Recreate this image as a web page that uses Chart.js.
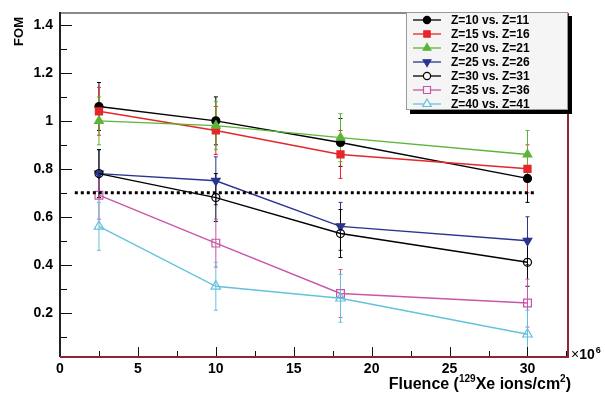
<!DOCTYPE html>
<html>
<head>
<meta charset="utf-8">
<script src="https://cdn.jsdelivr.net/npm/chart.js@4.4.0/dist/chart.umd.min.js"></script>
<style>
  body { margin: 0; background: #fff; }
  #wrap { width: 605px; height: 397px; }
</style>
</head>
<body>
<div id="wrap"><canvas id="fomChart" width="605" height="397"></canvas></div>
<script>
// fluence in units of 1e6 ions/cm2
const fluence = [2.5, 10, 18, 30];

const seriesLabels = ['Z=10 vs. Z=11', 'Z=15 vs. Z=16', 'Z=20 vs. Z=21', 'Z=25 vs. Z=26',
                      'Z=30 vs. Z=31', 'Z=35 vs. Z=36', 'Z=40 vs. Z=41'];

const fomZ10 = [1.06, 1.00, 0.91, 0.76];
const fomZ15 = [1.04, 0.96, 0.86, 0.80];
const fomZ20 = [1.00, 0.98, 0.93, 0.86];
const fomZ25 = [0.78, 0.75, 0.56, 0.50];
const fomZ30 = [0.78, 0.68, 0.53, 0.41];
const fomZ35 = [0.69, 0.49, 0.28, 0.24];
const fomZ40 = [0.56, 0.31, 0.26, 0.11];

const errZ10 = [0.10, 0.10, 0.10, 0.10];
const errZ15 = [0.10, 0.10, 0.10, 0.10];
const errZ20 = [0.10, 0.10, 0.10, 0.10];
const errZ25 = [0.10, 0.10, 0.10, 0.10];
const errZ30 = [0.10, 0.10, 0.10, 0.10];
const errZ35 = [0.10, 0.10, 0.10, 0.10];
const errZ40 = [0.10, 0.10, 0.10, 0.10];

const threshold = 0.7;
const thresholdRange = [0.95, 30.6];

const xTicks = [0, 5, 10, 15, 20, 25, 30];
const xMinorTicks = [2.5, 7.5, 12.5, 17.5, 22.5, 27.5, 32.5];
const yTicks = [0.2, 0.4, 0.6, 0.8, 1, 1.2, 1.4];
const yMinorTicks = [0.1, 0.3, 0.5, 0.7, 0.9, 1.1, 1.3];

const values = [fomZ10, fomZ15, fomZ20, fomZ25, fomZ30, fomZ35, fomZ40];
const errors = [errZ10, errZ15, errZ20, errZ25, errZ30, errZ35, errZ40];

// marker styles, ROOT-like
const styles = [
  { color: '#000000', shape: 'circle',   open: false, r: 4,   rot: 0 },
  { color: '#e5262b', shape: 'rect',     open: false, r: 5,   rot: 0 },
  { color: '#5cb536', shape: 'triangle', open: false, r: 5,   rot: 0 },
  { color: '#2a3490', shape: 'triangle', open: false, r: 5,   rot: 180 },
  { color: '#000000', shape: 'circle',   open: true,  r: 4,   rot: 0 },
  { color: '#c856a6', shape: 'rect',     open: true,  r: 5.5, rot: 0 },
  { color: '#64c2dc', shape: 'triangle', open: true,  r: 5.5, rot: 0 }
];

const font = { family: '"Liberation Sans", Arial, sans-serif', size: 14, weight: 'bold' };

const datasets = values.map((vals, i) => ({
  label: seriesLabels[i],
  data: fluence.map((f, j) => ({ x: f, y: vals[j] })),
  borderColor: styles[i].color,
  borderWidth: 1.4,
  pointStyle: styles[i].shape,
  pointRotation: styles[i].rot,
  pointRadius: styles[i].r,
  pointBorderWidth: 1.2,
  pointBorderColor: styles[i].color,
  pointBackgroundColor: styles[i].open ? 'rgba(255,255,255,0)' : styles[i].color,
  order: values.length - i,
  tension: 0
}));

datasets.push({
  label: 'threshold',
  data: thresholdRange.map(x => ({ x, y: threshold })),
  borderColor: '#000',
  borderWidth: 3,
  borderDash: [3, 3],
  pointRadius: 0,
  order: 0
});

const errorBars = {
  id: 'errorBars',
  beforeDatasetsDraw(chart) {
    const { ctx, chartArea: a, scales: { x, y } } = chart;
    ctx.save();
    ctx.beginPath();
    ctx.rect(a.left, a.top, a.right - a.left, a.bottom - a.top);
    ctx.clip();
    values.forEach((vals, i) => {
      ctx.strokeStyle = styles[i].color;
      ctx.lineWidth = 1;
      fluence.forEach((f, j) => {
        const px = x.getPixelForValue(f);
        const lo = y.getPixelForValue(vals[j] - errors[i][j]);
        const hi = y.getPixelForValue(vals[j] + errors[i][j]);
        ctx.beginPath();
        ctx.moveTo(px, lo); ctx.lineTo(px, hi);
        ctx.moveTo(px - 2, lo); ctx.lineTo(px + 2, lo);
        ctx.moveTo(px - 2, hi); ctx.lineTo(px + 2, hi);
        ctx.stroke();
      });
    });
    ctx.restore();
  }
};

// frame, inward ticks, axis titles and the boxed legend
const decorations = {
  id: 'decorations',
  afterDatasetsDraw(chart) {
    const { ctx, chartArea: a, scales: { x, y } } = chart;
    ctx.save();
    ctx.lineCap = 'butt';

    ctx.strokeStyle = '#111';
    ctx.lineWidth = 1;
    ctx.beginPath();
    yTicks.forEach(v => { const py = Math.round(y.getPixelForValue(v)) + 0.5; ctx.moveTo(a.left, py); ctx.lineTo(a.left + 12, py); });
    yMinorTicks.forEach(v => { const py = Math.round(y.getPixelForValue(v)) + 0.5; ctx.moveTo(a.left, py); ctx.lineTo(a.left + 7, py); });
    xTicks.forEach(v => { const px = Math.round(x.getPixelForValue(v)) + 0.5; ctx.moveTo(px, a.bottom); ctx.lineTo(px, a.bottom - 10); });
    xMinorTicks.forEach(v => { const px = Math.round(x.getPixelForValue(v)) + 0.5; ctx.moveTo(px, a.bottom); ctx.lineTo(px, a.bottom - 6); });
    ctx.stroke();

    ctx.lineWidth = 2;
    ctx.strokeStyle = '#8a8a8a';
    ctx.beginPath(); ctx.moveTo(a.left, a.top); ctx.lineTo(a.right, a.top); ctx.stroke();
    ctx.strokeStyle = '#222';
    ctx.beginPath(); ctx.moveTo(a.left, a.top - 1); ctx.lineTo(a.left, a.bottom); ctx.stroke();
    ctx.strokeStyle = '#8c2636';
    ctx.beginPath(); ctx.moveTo(a.left, a.bottom); ctx.lineTo(a.right, a.bottom); ctx.lineTo(a.right, a.top); ctx.stroke();

    ctx.fillStyle = '#000';
    ctx.save();
    ctx.translate(19, 17);
    ctx.rotate(-Math.PI / 2);
    ctx.font = 'bold 13px "Liberation Sans", Arial, sans-serif';
    ctx.textAlign = 'right';
    ctx.textBaseline = 'middle';
    ctx.fillText('FOM', 0, 0);
    ctx.restore();

    // Fluence (^129Xe ions/cm^2), right aligned to the frame
    const big = 'bold 16px "Liberation Sans", Arial, sans-serif';
    const small = 'bold 10px "Liberation Sans", Arial, sans-serif';
    const parts = [['Fluence (', big, 0], ['129', small, -7], ['Xe ions/cm', big, 0], ['2', small, -7], [')', big, 0]];
    ctx.textBaseline = 'alphabetic';
    ctx.textAlign = 'left';
    let w = 0;
    parts.forEach(p => { ctx.font = p[1]; w += ctx.measureText(p[0]).width; });
    let tx = a.right + 3 - w;
    parts.forEach(p => { ctx.font = p[1]; ctx.fillText(p[0], tx, 389 + p[2]); tx += ctx.measureText(p[0]).width; });

    // exponent of the x axis
    ctx.font = '14px "Liberation Sans", Arial, sans-serif';
    ctx.fillText('\u00d7', a.right + 3, 359);
    let ex = a.right + 3 + ctx.measureText('\u00d7').width;
    ctx.font = 'bold 14px "Liberation Sans", Arial, sans-serif';
    ctx.fillText('10', ex, 359);
    ex += ctx.measureText('10').width + 1;
    ctx.font = 'bold 9px "Liberation Sans", Arial, sans-serif';
    ctx.fillText('6', ex, 353);

    // legend box with drop shadow
    const lx = 406, ly = 12, lw = 162, lh = 98;
    ctx.fillStyle = '#000';
    ctx.fillRect(lx + 4, ly + 4, lw, lh);
    ctx.fillStyle = '#f5f5f5';
    ctx.fillRect(lx, ly, lw, lh);
    ctx.strokeStyle = '#9a9a9a';
    ctx.lineWidth = 1;
    ctx.strokeRect(lx + 0.5, ly + 0.5, lw - 1, lh - 1);
    ctx.font = 'bold 12px "Liberation Sans", Arial, sans-serif';
    ctx.textBaseline = 'middle';
    seriesLabels.forEach((label, i) => {
      const ry = ly + 8 + i * 14;
      const s = styles[i];
      ctx.strokeStyle = s.color;
      ctx.lineWidth = 1.3;
      ctx.beginPath(); ctx.moveTo(lx + 7, ry); ctx.lineTo(lx + 35, ry); ctx.stroke();
      ctx.fillStyle = s.open ? '#f5f5f5' : s.color;
      ctx.strokeStyle = s.color;
      ctx.lineWidth = 1.2;
      Chart.helpers.drawPoint(ctx, { pointStyle: s.shape, radius: s.r * 0.9, rotation: s.rot, borderWidth: 1.2 }, lx + 21, ry);
      ctx.fillStyle = '#000';
      ctx.fillText(label, lx + 45, ry + 1);
    });
    ctx.restore();
  }
};

new Chart(document.getElementById('fomChart'), {
  type: 'line',
  data: { datasets },
  options: {
    responsive: false,
    animation: false,
    layout: { padding: { top: 13, right: 37, left: 0, bottom: 0 } },
    plugins: { legend: { display: false }, tooltip: { enabled: false } },
    scales: {
      x: {
        type: 'linear',
        min: 0,
        max: 32.6,
        afterBuildTicks: s => { s.ticks = xTicks.map(v => ({ value: v })); },
        afterFit: s => { s.height = 40; s.paddingLeft = 0; s.paddingRight = 0; },
        grid: { display: false, drawTicks: false },
        border: { display: false },
        ticks: { font, color: '#000', padding: 4, maxRotation: 0, autoSkip: false }
      },
      y: {
        type: 'linear',
        min: 0.015,
        max: 1.45,
        afterBuildTicks: s => { s.ticks = yTicks.map(v => ({ value: v })); },
        afterFit: s => { s.width = 60; s.paddingTop = 0; s.paddingBottom = 0; },
        grid: { display: false, drawTicks: false },
        border: { display: false },
        ticks: { font, color: '#000', padding: 7, autoSkip: false, callback: v => String(v) }
      }
    }
  },
  plugins: [errorBars, decorations]
});
</script>
</body>
</html>
